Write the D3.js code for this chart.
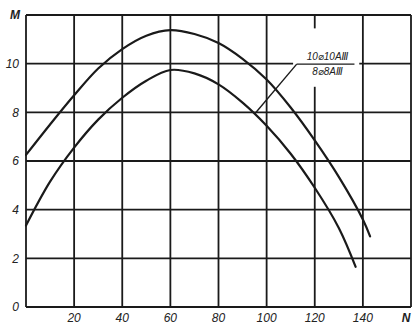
<!DOCTYPE html>
<html>
<head>
<meta charset="utf-8">
<script src="https://cdn.jsdelivr.net/npm/d3@7"></script>
<style>
  html, body { margin: 0; padding: 0; background: #fff; }
  svg { display: block; }
  text { font-family: "Liberation Sans", "DejaVu Sans", sans-serif; font-style: italic; fill: #222; }
</style>
</head>
<body>
<svg id="chart" width="418" height="330"></svg>
<script>
// ---- data ----
const xTicks = [20, 40, 60, 80, 100, 120, 140];
const yTicks = [0, 2, 4, 6, 8, 10];
const xGrid = [0, 20, 40, 60, 80, 100, 120, 140, 160];
const yGrid = [0, 2, 4, 6, 8, 10, 12];
const xAxisName = "N";
const yAxisName = "M";

const seriesNames = ["10⌀10AⅢ", "8⌀8AⅢ"];
const upperN = [0, 10, 20, 30, 40, 50, 60, 70, 80, 90, 100, 110, 120, 130, 140, 143];
const upperM = [6.25, 7.5, 8.7, 9.8, 10.6, 11.15, 11.38, 11.22, 10.85, 10.2, 9.35, 8.2, 6.85, 5.35, 3.6, 2.9];
const lowerN = [0, 10, 20, 30, 40, 50, 60, 70, 80, 90, 100, 110, 120, 130, 137];
const lowerM = [3.35, 5.15, 6.55, 7.7, 8.6, 9.3, 9.74, 9.6, 9.15, 8.4, 7.45, 6.3, 4.9, 3.25, 1.65];
const leaderTarget = { n: 95, m: 7.93 };

// ---- layout ----
const svg = d3.select("#chart");
const x = d3.scaleLinear().domain([0, 160]).range([26, 411]);
const y = d3.scaleLinear().domain([0, 12]).range([307, 15]);
const ink = "#1a1a1a";

// grid
svg.append("g").selectAll("line").data(xGrid).join("line")
  .attr("x1", d => x(d)).attr("x2", d => x(d))
  .attr("y1", y(0)).attr("y2", y(12))
  .attr("stroke", ink).attr("stroke-width", 1.8);
svg.append("g").selectAll("line").data(yGrid).join("line")
  .attr("x1", x(0)).attr("x2", x(160))
  .attr("y1", d => y(d)).attr("y2", d => y(d))
  .attr("stroke", ink).attr("stroke-width", 1.8);

// curves
const line = d3.line().x(d => x(d[0])).y(d => y(d[1])).curve(d3.curveCatmullRom.alpha(0.5));
const upper = upperN.map((n, i) => [n, upperM[i]]);
const lower = lowerN.map((n, i) => [n, lowerM[i]]);
[upper, lower].forEach(s => {
  svg.append("path").datum(s).attr("d", line)
    .attr("fill", "none").attr("stroke", ink).attr("stroke-width", 2.2)
    .attr("stroke-linecap", "round");
});

// label box (blanks grid)
const lx0 = x(111), lx1 = x(138.5), ly0 = y(11.45), ly1 = y(9.05);
svg.append("rect").attr("x", lx0).attr("y", ly0).attr("width", lx1 - lx0).attr("height", ly1 - ly0).attr("fill", "#fff");
const fracY = y(9.98);
svg.append("line").attr("x1", x(112.5)).attr("x2", x(136.5)).attr("y1", fracY).attr("y2", fracY)
  .attr("stroke", ink).attr("stroke-width", 1.2);
svg.append("line").attr("x1", x(112.5)).attr("y1", fracY)
  .attr("x2", x(leaderTarget.n)).attr("y2", y(leaderTarget.m))
  .attr("stroke", ink).attr("stroke-width", 1.4);
svg.append("text").attr("x", (x(112.5) + x(136.5)) / 2 + 2).attr("y", fracY - 4)
  .attr("text-anchor", "middle").attr("font-size", 10).text(seriesNames[0]);
svg.append("text").attr("x", (x(112.5) + x(136.5)) / 2 + 2).attr("y", fracY + 11)
  .attr("text-anchor", "middle").attr("font-size", 10).text(seriesNames[1]);

// tick labels
svg.append("g").selectAll("text").data(yTicks).join("text")
  .attr("x", 19).attr("y", d => y(d)).attr("dy", "0.35em")
  .attr("text-anchor", "end").attr("font-size", 12).text(d => d);
svg.append("text").attr("x", 20).attr("y", y(12)).attr("dy", "0.35em")
  .attr("text-anchor", "end").attr("font-size", 12).attr("font-weight", "bold").text(yAxisName);
svg.append("g").selectAll("text").data(xTicks).join("text")
  .attr("x", d => x(d)).attr("y", 318).attr("dy", "0.35em")
  .attr("text-anchor", "middle").attr("font-size", 12).text(d => d);
svg.append("text").attr("x", x(160) - 5).attr("y", 318).attr("dy", "0.35em")
  .attr("text-anchor", "middle").attr("font-size", 12).attr("font-weight", "bold").text(xAxisName);
</script>
</body>
</html>
